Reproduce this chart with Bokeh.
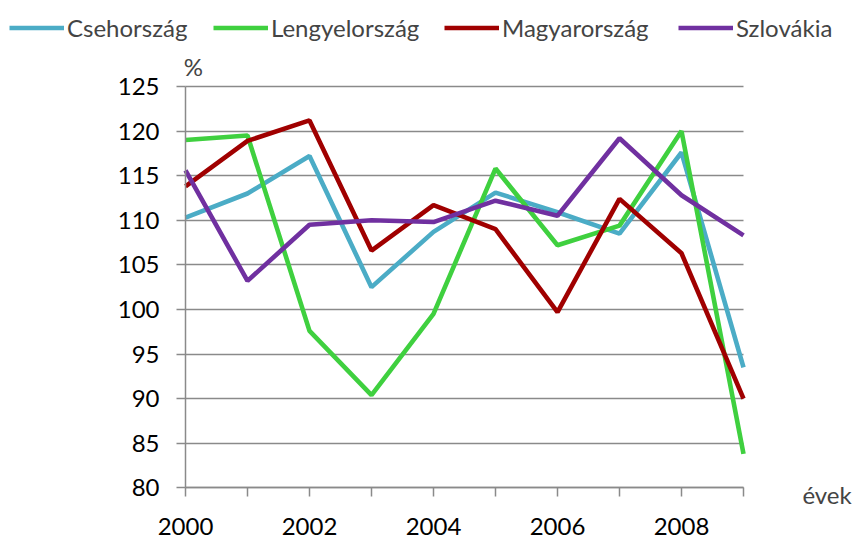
from bokeh.plotting import figure
from bokeh.models import Range1d, FixedTicker, Legend, LegendItem, Label
from bokeh.embed import file_html
from bokeh.resources import INLINE

years = [2000, 2001, 2002, 2003, 2004, 2005, 2006, 2007, 2008, 2009]
cseh = [110.3, 113.0, 117.2, 102.5, 108.7, 113.1, 110.9, 108.5, 117.6, 93.5]
lengyel = [119.0, 119.5, 97.6, 90.4, 99.5, 115.8, 107.2, 109.4, 120.0, 83.8]
magyar = [113.8, 118.9, 121.2, 106.6, 111.7, 109.0, 99.7, 112.4, 106.3, 90.0]
szlovak = [115.6, 103.2, 109.5, 110.0, 109.8, 112.2, 110.5, 119.2, 112.8, 108.3]
names = ["Csehország", "Lengyelország", "Magyarország", "Szlovákia"]
colors = ["#4BACC6", "#3FD03F", "#A00000", "#7030A0"]
y_ticks = [80, 85, 90, 95, 100, 105, 110, 115, 120, 125]
x_label_years = [2000, 2002, 2004, 2006, 2008]

FONT = "Lato"
FS = "24px"
GRAY = "#8a8a8a"

# canvas and plot-area geometry (pixels)
W, H = 859, 541
PL, PR, PT, PB = 185, 743, 86, 487.3
X0, X1 = years[0], years[-1]
Y0, Y1 = y_ticks[0], y_ticks[-1]
sx = (PR - PL) / (X1 - X0)
sy = (PB - PT) / (Y1 - Y0)
xr = Range1d(X0 - PL / sx, X1 + (W - PR) / sx)
yr = Range1d(Y0 - (H - PB) / sy, Y1 + PT / sy)

p = figure(width=W, height=H, output_backend="svg", toolbar_location=None,
           x_range=xr, y_range=yr,
           min_border_left=0, min_border_right=0, min_border_top=0, min_border_bottom=0)
p.outline_line_color = None
p.background_fill_color = "white"
p.border_fill_color = "white"

series = [cseh, lengyel, magyar, szlovak]
renderers = []
for vals, c in zip(series, colors):
    r = p.line(years, vals, line_color=c, line_width=4.6)
    renderers.append(r)

# axes drawn at the data edges
p.xgrid.grid_line_color = None
p.ygrid.grid_line_color = GRAY
p.ygrid.grid_line_width = 1.5
p.ygrid.ticker = FixedTicker(ticks=y_ticks)
p.ygrid.bounds = (Y0, Y1)
try:
    p.ygrid.cross_bounds = (X0, X1)
    use_ticks_as_grid = False
except Exception:
    use_ticks_as_grid = True

p.yaxis.ticker = FixedTicker(ticks=y_ticks)
p.xaxis.ticker = FixedTicker(ticks=years)
p.xaxis.major_label_overrides = {y: (str(y) if y in x_label_years else "") for y in years}
p.xaxis.fixed_location = Y0
p.yaxis.fixed_location = X0
p.xaxis.bounds = (X0, X1)
p.yaxis.bounds = (Y0, Y1)
for ax in (p.xaxis[0], p.yaxis[0]):
    ax.axis_line_color = GRAY
    ax.axis_line_width = 1.5
    ax.major_tick_line_color = GRAY
    ax.major_tick_line_width = 1.5
    ax.major_tick_out = 9
    ax.major_tick_in = 0
    ax.minor_tick_line_color = None
    ax.major_label_text_font = FONT
    ax.major_label_text_font_size = FS
    ax.major_label_text_color = "black"
p.yaxis.major_label_standoff = 17
p.xaxis.major_label_standoff = 21
if use_ticks_as_grid:
    p.ygrid.grid_line_color = None
    p.yaxis.major_tick_in = int(PR - PL)
    p.yaxis.level = "underlay"

# legend entries along the top
leg_x = [9, 213, 444, 678]
for name, r, lx in zip(names, renderers, leg_x):
    lg = Legend(items=[LegendItem(label=name, renderers=[r])], location=(lx, H - 42),
                orientation="horizontal", padding=0, margin=0, spacing=0,
                glyph_width=55, glyph_height=27, label_height=27, label_standoff=3,
                label_text_font=FONT, label_text_font_size=FS,
                border_line_color=None, background_fill_alpha=0)
    p.add_layout(lg, "center")

p.add_layout(Label(x=X0 - 0.03, y=Y1 + 2.2, text="%", text_font=FONT, text_font_size=FS,
                   text_align="left", text_baseline="middle"))
p.add_layout(Label(x=X1 + 0.95, y=Y0 - 0.75, text="évek", text_font=FONT, text_font_size=FS,
                   text_align="left", text_baseline="middle"))

open("out.html", "w").write(file_html(p, INLINE))
